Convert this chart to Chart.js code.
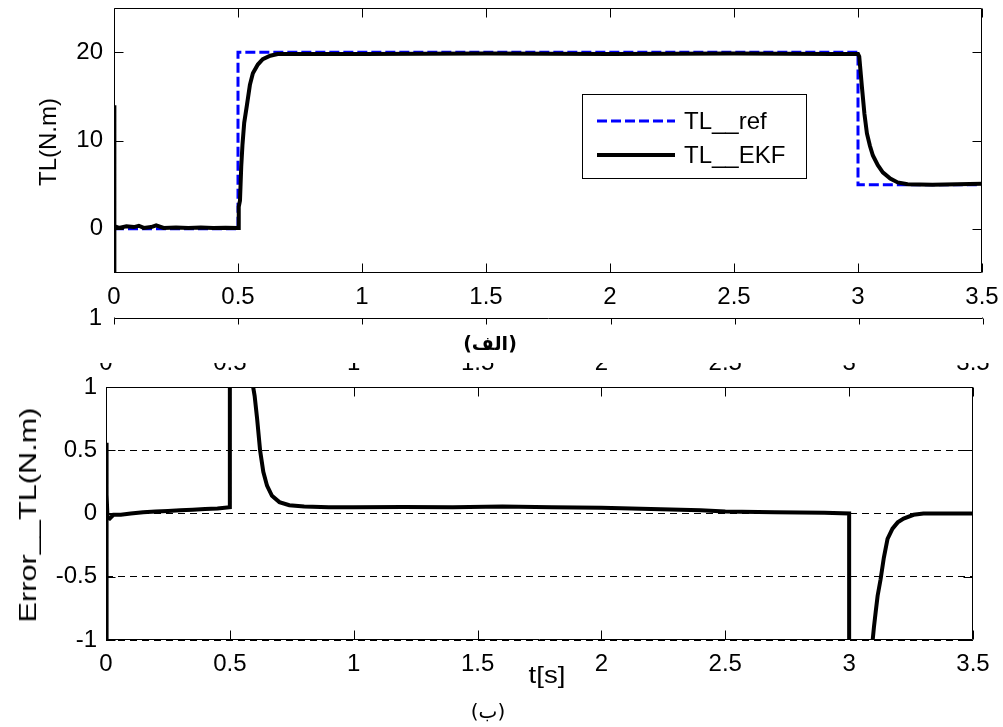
<!DOCTYPE html>
<html>
<head>
<meta charset="utf-8">
<script src="https://cdn.jsdelivr.net/npm/chart.js@4/dist/chart.umd.min.js"></script>
<style>
    body { margin: 0; background: #fff; }
    #wrap { position: relative; width: 1003px; height: 727px; overflow: hidden; font-family: "Liberation Sans", Arial, "DejaVu Sans", sans-serif; }
    canvas { position: absolute; left: 0; }
    .lbl { position: absolute; white-space: nowrap; color: #000; transform: translate(-50%, -50%); }
    .ylbl { position: absolute; white-space: nowrap; color: #000; font-size: 24px; transform: translate(-50%, -50%) rotate(-90deg); }
</style>
</head>
<body>
<div id="wrap">
    <canvas id="tlChart" width="1003" height="310" style="top:0"></canvas>
    <canvas id="stripChart" width="1003" height="55" style="top:280px"></canvas>
    <canvas id="errChart" width="1003" height="392" style="top:335px"></canvas>

    <div class="ylbl" style="left:48px; top:142px;">TL(N.m)</div>
    <div class="ylbl" style="left:28px; top:515px; transform: translate(-50%, -50%) rotate(-90deg) scaleX(1.28);">Error__TL(N.m)</div>
    <div class="lbl" style="left:490px; top:343px; font-size:19px; font-weight:bold; font-family:'DejaVu Sans', sans-serif;" dir="rtl">(الف)</div>
    <div class="lbl" style="left:547px; top:675px; font-size:24px; transform: translate(-50%, -50%) scaleX(1.15);">t[s]</div>
    <div class="lbl" style="left:488px; top:711px; font-size:20px; font-family:'DejaVu Sans', sans-serif;" dir="rtl">(ب)</div>
</div>

<script>
// axis ticks
const xTicks = [0, 0.5, 1, 1.5, 2, 2.5, 3, 3.5];
const tlTicks = [0, 10, 20];
const errTicks = [-1, -0.5, 0, 0.5, 1];

// reference load torque (step profile)
const refTime = [0, 0.5, 0.5, 3, 3, 3.5];
const refTL = [0, 0, 20, 20, 5, 5];

// EKF estimate
const ekfTime = [0, 0, 0.003, 0.02, 0.05, 0.08, 0.1, 0.12, 0.15, 0.17, 0.2, 0.25, 0.3, 0.35, 0.4, 0.45, 0.5,
    0.503, 0.508, 0.513, 0.518, 0.525, 0.536, 0.548, 0.56, 0.58, 0.6, 0.63, 0.66, 0.7, 1.0, 1.5, 2.0, 2.5, 2.9, 3.0,
    3.005, 3.016, 3.026, 3.036, 3.048, 3.06, 3.08, 3.1, 3.13, 3.16, 3.2, 3.3, 3.4, 3.5];
const ekfTL = [-6, 14, 0.3, 0.1, 0.3, 0.2, 0.35, 0.1, 0.2, 0.4, 0.1, 0.15, 0.1, 0.15, 0.1, 0.12, 0.1,
    2.5, 3.2, 7, 9.5, 12, 14, 16.3, 17.6, 18.6, 19.2, 19.6, 19.8, 19.8, 19.8, 19.85, 19.8, 19.85, 19.8, 19.8,
    19.5, 16, 13, 10.8, 9.4, 8.3, 7.2, 6.4, 5.7, 5.25, 5.05, 5.0, 5.05, 5.1];

// estimation error
const errTime = [0, 0.001, 0.002, 0.004, 0.006, 0.015, 0.03, 0.06, 0.1, 0.15, 0.2, 0.25, 0.3, 0.35, 0.4, 0.45, 0.5,
    0.5, 0.594, 0.6, 0.61, 0.622, 0.635, 0.65, 0.67, 0.7, 0.74, 0.8, 0.9, 1.0, 1.2, 1.4, 1.6, 1.8, 2.0, 2.2, 2.4, 2.5,
    2.7, 2.9, 3.0, 3.0, 3.095, 3.1, 3.107, 3.115, 3.127, 3.14, 3.155, 3.175, 3.196, 3.22, 3.26, 3.3, 3.4, 3.5];
const errTL = [-1.3, 0.56, -0.35, 0.15, -0.03, -0.04, -0.01, -0.01, 0.0, 0.01, 0.015, 0.02, 0.025, 0.03, 0.035, 0.04, 0.05,
    18, 1.0, 0.93, 0.75, 0.5, 0.33, 0.22, 0.14, 0.09, 0.065, 0.055, 0.05, 0.05, 0.052, 0.05, 0.055, 0.05, 0.045, 0.035, 0.025, 0.015,
    0.01, 0.005, 0.0, -15, -1, -0.9, -0.78, -0.65, -0.52, -0.35, -0.2, -0.12, -0.07, -0.04, -0.01, 0.0, 0.0, 0.0];

Chart.defaults.font.family = '"Liberation Sans", Arial, sans-serif';
Chart.defaults.font.size = 24;
Chart.defaults.color = "#000";

function toPoints(xs, ys) {
    return xs.map((x, i) => ({ x: x, y: ys[i] }));
}

function fixTicks(values) {
    return function (scale) {
        scale.ticks = values.map(v => ({ value: v }));
    };
}

// keep label overflow from moving the plot box, layout padding decides
function noOverflow(scale) {
    scale.paddingLeft = 0;
    scale.paddingRight = 0;
    scale.paddingTop = 0;
    scale.paddingBottom = 0;
}

// matlab style box with inward tick marks
const framePlugin = {
    id: "frame",
    afterDatasetsDraw(chart, args, opts) {
        const ctx = chart.ctx;
        const a = chart.chartArea;
        const L = Math.round(a.left) + 0.5;
        const R = Math.round(a.right) - 0.5;
        const T = Math.round(a.top) + 0.5;
        const B = Math.round(a.bottom) - 0.5;
        const sides = opts.sides || ["top", "bottom", "left", "right"];
        const len = opts.tickLen || 8;

        ctx.save();
        ctx.strokeStyle = "#000";
        ctx.lineWidth = 1;
        ctx.beginPath();
        if (sides.includes("top")) { ctx.moveTo(L, T); ctx.lineTo(R, T); }
        if (sides.includes("bottom")) { ctx.moveTo(L, B); ctx.lineTo(R, B); }
        if (sides.includes("left")) { ctx.moveTo(L, T); ctx.lineTo(L, B); }
        if (sides.includes("right")) { ctx.moveTo(R, T); ctx.lineTo(R, B); }

        (opts.xTicks || []).forEach(v => {
            const px = Math.round(chart.scales.x.getPixelForValue(v)) + 0.5;
            if (sides.includes("top")) { ctx.moveTo(px, T); ctx.lineTo(px, T + len); }
            if (sides.includes("bottom")) { ctx.moveTo(px, B); ctx.lineTo(px, B - len); }
        });
        (opts.yTicks || []).forEach(v => {
            const py = Math.round(chart.scales.y.getPixelForValue(v)) + 0.5;
            if (sides.includes("left")) { ctx.moveTo(L, py); ctx.lineTo(L + len, py); }
            if (sides.includes("right")) { ctx.moveTo(R, py); ctx.lineTo(R - len, py); }
        });
        ctx.stroke();
        ctx.restore();
    }
};

const legendBox = {
    id: "legendBox",
    afterDatasetsDraw(chart, args, opts) {
        const ctx = chart.ctx;
        ctx.save();
        ctx.fillStyle = "#fff";
        ctx.fillRect(opts.left, opts.top, opts.width, opts.height);
        ctx.strokeStyle = "#000";
        ctx.lineWidth = 1;
        ctx.strokeRect(opts.left + 0.5, opts.top + 0.5, opts.width, opts.height);

        ctx.font = '24px "Liberation Sans", Arial, sans-serif';
        ctx.textBaseline = "middle";
        ctx.fillStyle = "#000";
        chart.data.datasets.forEach((ds, i) => {
            const y = opts.top + 27 + i * 34;
            ctx.beginPath();
            ctx.strokeStyle = ds.borderColor;
            ctx.lineWidth = ds.borderWidth;
            ctx.setLineDash(ds.borderDash || []);
            ctx.moveTo(opts.left + 15, y);
            ctx.lineTo(opts.left + 93, y);
            ctx.stroke();
            ctx.setLineDash([]);
            ctx.fillText(ds.label, opts.left + 102, y + 1);
        });
        ctx.restore();
    }
};

// half hidden tick labels of the overlapped axes
const ghostLabels = {
    id: "ghostLabels",
    afterDraw(chart, args, opts) {
        const ctx = chart.ctx;
        ctx.save();
        ctx.beginPath();
        ctx.rect(0, opts.clipTop, chart.width, opts.clipHeight);
        ctx.clip();
        ctx.font = '24px "Liberation Sans", Arial, sans-serif';
        ctx.textAlign = "center";
        ctx.textBaseline = "alphabetic";
        ctx.fillStyle = "#000";
        xTicks.forEach(v => {
            ctx.fillText(String(v), chart.scales.x.getPixelForValue(v), opts.baseline);
        });
        ctx.restore();
    }
};

function xScale(height, showLabels) {
    return {
        type: "linear",
        min: 0,
        max: 3.5,
        display: showLabels !== false,
        afterBuildTicks: fixTicks(xTicks),
        afterFit(scale) { scale.height = height; noOverflow(scale); },
        grid: { display: false, drawTicks: false },
        border: { display: false },
        ticks: { padding: 10, maxRotation: 0, autoSkip: false, callback: v => String(v) }
    };
}

function renderTorqueChart() {
    new Chart(document.getElementById("tlChart"), {
        type: "line",
        data: {
            datasets: [{
                label: "TL__ref",
                data: toPoints(refTime, refTL),
                borderColor: "#0000ff",
                borderWidth: 3,
                borderDash: [10, 4],
                pointRadius: 0,
                order: 1,
                clip: 0
            }, {
                label: "TL__EKF",
                data: toPoints(ekfTime, ekfTL),
                borderColor: "#000000",
                borderWidth: 4,
                pointRadius: 0,
                order: 0,
                clip: 0
            }]
        },
        options: {
            responsive: false,
            animation: false,
            layout: { padding: { top: 8, right: 21, left: 0, bottom: 0 } },
            plugins: {
                legend: { display: false },
                tooltip: { enabled: false },
                frame: { xTicks: xTicks, yTicks: tlTicks, tickLen: 9 },
                legendBox: { left: 582, top: 94, width: 224, height: 84 }
            },
            scales: {
                x: xScale(37),
                y: {
                    type: "linear",
                    min: -5,
                    max: 25,
                    afterBuildTicks: fixTicks(tlTicks),
                    afterFit(scale) { scale.width = 114; noOverflow(scale); },
                    grid: { display: false, drawTicks: false },
                    border: { display: false },
                    ticks: { padding: 11, callback: v => String(v) }
                }
            }
        },
        plugins: [framePlugin, legendBox]
    });
}

function renderStripChart() {
    new Chart(document.getElementById("stripChart"), {
        type: "line",
        data: {
            datasets: [{
                label: "err",
                data: toPoints(errTime, errTL),
                borderColor: "#000000",
                borderWidth: 4,
                pointRadius: 0,
                clip: 0
            }]
        },
        options: {
            responsive: false,
            animation: false,
            layout: { padding: { top: 38, right: 20, left: 0, bottom: 29 } },
            plugins: {
                legend: { display: false },
                tooltip: { enabled: false },
                frame: { xTicks: xTicks, sides: ["top", "left", "right"], tickLen: 6 }
            },
            scales: {
                x: xScale(0, false),
                y: {
                    type: "linear",
                    min: 0.9,
                    max: 1,
                    afterBuildTicks: fixTicks([1]),
                    afterFit(scale) { scale.width = 114; noOverflow(scale); },
                    grid: { display: false, drawTicks: false },
                    border: { display: false },
                    ticks: { padding: 12, callback: v => String(v) }
                }
            }
        },
        plugins: [framePlugin]
    });
}

function renderErrorChart() {
    new Chart(document.getElementById("errChart"), {
        type: "line",
        data: {
            datasets: [{
                label: "Error__TL",
                data: toPoints(errTime, errTL),
                borderColor: "#000000",
                borderWidth: 4,
                pointRadius: 0,
                clip: 0
            }]
        },
        options: {
            responsive: false,
            animation: false,
            layout: { padding: { top: 52, right: 30, left: 0, bottom: 0 } },
            plugins: {
                legend: { display: false },
                tooltip: { enabled: false },
                frame: { xTicks: xTicks, yTicks: errTicks, tickLen: 9 },
                ghostLabels: { clipTop: 28, clipHeight: 7, baseline: 34.5 }
            },
            scales: {
                x: xScale(87),
                y: {
                    type: "linear",
                    min: -1,
                    max: 1,
                    afterBuildTicks: fixTicks(errTicks),
                    afterFit(scale) { scale.width = 106; noOverflow(scale); },
                    grid: { display: true, drawTicks: false, color: "#000", lineWidth: 1 },
                    border: { display: false, dash: [7, 5] },
                    ticks: { padding: 9, callback: v => String(v) }
                }
            }
        },
        plugins: [framePlugin, ghostLabels]
    });
}

window.addEventListener("DOMContentLoaded", () => {
    renderTorqueChart();
    renderStripChart();
    renderErrorChart();
});
</script>
</body>
</html>
